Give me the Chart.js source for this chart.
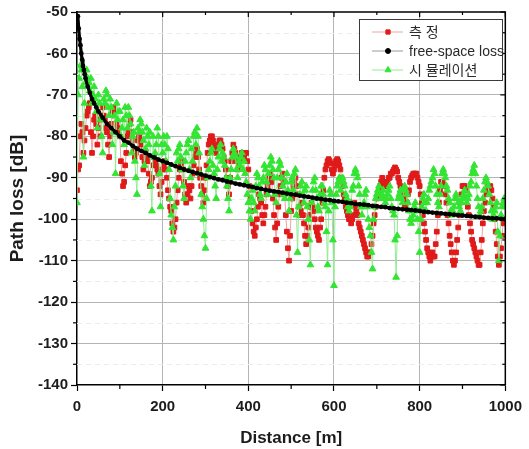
<!DOCTYPE html>
<html>
<head>
<meta charset="utf-8">
<script src="https://cdn.jsdelivr.net/npm/chart.js@4.4.1/dist/chart.umd.min.js"></script>
<style>
  html, body { margin: 0; padding: 0; background: #fff; }
  #wrap { position: relative; width: 529px; height: 449px; }
</style>
</head>
<body>
<div id="wrap"><canvas id="chart" width="529" height="449"></canvas></div>
<script>
// sample positions along the route [m]
const distance = [
  0,5,10,15,20,25,30,35,40,45, 50,55,60,65,70,75,80,85,90,95,
  100,105,110,115,120,125,130,135,140,145, 150,155,160,165,170,175,180,185,190,195,
  200,205,210,215,220,225,230,235,240,245, 250,255,260,265,270,275,280,285,290,295,
  300,305,310,315,320,325,330,335,340,345, 350,355,360,365,370,375,380,385,390,395,
  400,405,410,415,420,425,430,435,440,445, 450,455,460,465,470,475,480,485,490,495,
  500,505,510,515,520,525,530,535,540,545, 550,555,560,565,570,575,580,585,590,595,
  600,605,610,615,620,625,630,635,640,645, 650,655,660,665,670,675,680,685,690,695,
  700,705,710,715,720,725,730,735,740,745, 750,755,760,765,770,775,780,785,790,795,
  800,805,810,815,820,825,830,835,840,845, 850,855,860,865,870,875,880,885,890,895,
  900,905,910,915,920,925,930,935,940,945, 950,955,960,965,970,975,980,985,990,995,
  1000
];
// in-between sample positions [m]
const distanceMid = [
  2.5,7.5,12.5,17.5,22.5,27.5,32.5,37.5,42.5,47.5, 52.5,57.5,62.5,67.5,72.5,77.5,82.5,87.5,92.5,97.5,
  102.5,107.5,112.5,117.5,122.5,127.5,132.5,137.5,142.5,147.5, 152.5,157.5,162.5,167.5,172.5,177.5,182.5,187.5,192.5,197.5,
  202.5,207.5,212.5,217.5,222.5,227.5,232.5,237.5,242.5,247.5, 252.5,257.5,262.5,267.5,272.5,277.5,282.5,287.5,292.5,297.5,
  302.5,307.5,312.5,317.5,322.5,327.5,332.5,337.5,342.5,347.5, 352.5,357.5,362.5,367.5,372.5,377.5,382.5,387.5,392.5,397.5,
  402.5,407.5,412.5,417.5,422.5,427.5,432.5,437.5,442.5,447.5, 452.5,457.5,462.5,467.5,472.5,477.5,482.5,487.5,492.5,497.5,
  502.5,507.5,512.5,517.5,522.5,527.5,532.5,537.5,542.5,547.5, 552.5,557.5,562.5,567.5,572.5,577.5,582.5,587.5,592.5,597.5,
  602.5,607.5,612.5,617.5,622.5,627.5,632.5,637.5,642.5,647.5, 652.5,657.5,662.5,667.5,672.5,677.5,682.5,687.5,692.5,697.5,
  702.5,707.5,712.5,717.5,722.5,727.5,732.5,737.5,742.5,747.5, 752.5,757.5,762.5,767.5,772.5,777.5,782.5,787.5,792.5,797.5,
  802.5,807.5,812.5,817.5,822.5,827.5,832.5,837.5,842.5,847.5, 852.5,857.5,862.5,867.5,872.5,877.5,882.5,887.5,892.5,897.5,
  902.5,907.5,912.5,917.5,922.5,927.5,932.5,937.5,942.5,947.5, 952.5,957.5,962.5,967.5,972.5,977.5,982.5,987.5,992.5,997.5
];

// 측정 (measured) [dB]
const measLoss = [
  -93,-87,-77,-84,-78,-74,-72,-84,-76,-77,  -78,-80,-73,-76,-79,-85,-77,-75,-74,-78,
  -80,-89,-91,-84,-79,-76,-81,-85,-83,-80,  -82,-88,-84,-86,-92,-90,-85,-87,-89,-94,
  -88,-86,-90,-95,-98,-103,-100,-93,-88,-86, -91,-96,-92,-95,-89,-85,-83,-88,-92,-96,
  -90,-84,-81,-80,-82,-84,-82,-81,-83,-86,  -90,-94,-86,-82,-84,-88,-86,-84,-85,-84,
  -88,-95,-101,-104,-100,-94,-96,-101,-97,-92, -89,-91,-99,-105,-97,-92,-89,-94,-103,-110,
  -98,-92,-90,-94,-99,-96,-101,-106,-102,-97, -97,-100,-103,-105,-100,-93,-88,-86,-86,-88,
  -88,-86,-86,-88,-92,-95,-98,-100,-101,-99, -97,-99,-102,-104,-106,-108,-109,-108,-104,-99,
  -95,-93,-91,-91,-92,-91,-90,-89,-88,-88,  -90,-92,-94,-97,-96,-93,-90,-89,-89,-90,
  -92,-96,-101,-105,-108,-110,-108,-109,-103,-96, -91,-91,-94,-99,-104,-108,-111,-108,-102,-96,
  -92,-92,-95,-99,-103,-106,-108,-110,-111,-105, -98,-94,-92,-92,-95,-100,-106,-111,-107,-101,
  -100
];
const measLossMid = [
  -88,-80,-79,-81,-75,-73,-79,-80,-75,-82,  -76,-75,-75,-78,-82,-80,-74,-73,-77,-79,
  -86,-92,-87,-80,-77,-79,-83,-84,-81,-81,  -85,-86,-85,-89,-91,-87,-86,-88,-92,-91,
  -87,-88,-93,-97,-101,-102,-96,-90,-87,-88, -94,-94,-93,-92,-87,-84,-85,-90,-94,-93,
  -87,-82,-80,-81,-83,-83,-81,-82,-85,-88,  -92,-90,-84,-83,-86,-87,-85,-84,-84,-86,
  -92,-98,-103,-102,-97,-95,-99,-99,-94,-90, -90,-95,-102,-101,-94,-90,-91,-99,-107,-104,
  -95,-91,-92,-97,-98,-99,-104,-104,-99,-96, -98,-102,-104,-102,-96,-90,-87,-85.5,-86.5,-89,
  -87,-85.5,-87,-90,-94,-97,-99,-100,-100,-96, -98,-101,-103,-105,-107,-109,-108,-106,-101,-97,
  -94,-92,-90,-91,-92,-90,-89,-88.5,-87.5,-88.5, -91,-93,-95,-97,-94,-91,-89.5,-89,-89,-91,
  -94,-99,-103,-107,-109,-109,-109,-106,-99,-93, -91,-92,-96,-101,-106,-110,-110,-105,-99,-94,
  -92,-93,-97,-101,-105,-107,-109,-111,-108,-101, -96,-93,-92,-93,-97,-103,-109,-109,-104,-100
];

// 시뮬레이션 (simulated) [dB]
const simLoss = [
  -96,-66,-64,-85,-67,-66,-69,-72,-68,-74,  -70,-76,-84,-72,-70,-75,-73,-79,-89,-76,
  -74,-78,-82,-75,-73,-77,-80,-86,-94,-79,  -77,-81,-83,-80,-79,-98,-85,-82,-80,-97,
  -84,-82,-80,-88,-99,-105,-92,-86,-82,-88, -95,-84,-81,-90,-86,-79,-78,-84,-94,-100,
  -107,-90,-86,-83,-89,-95,-85,-82,-84,-87, -92,-98,-88,-83,-85,-90,-87,-84,-86,-91,
  -96,-100,-93,-98,-89,-92,-95,-90,-88,-94, -87,-86,-90,-96,-88,-87,-92,-95,-89,-98,
  -91,-93,-88,-108,-94,-91,-96,-92,-100,-111, -93,-90,-95,-98,-92,-94,-97,-111,-93,-96,
  -116,-94,-91,-93,-90,-92,-95,-98,-96,-92, -88,-90,-94,-99,-96,-93,-100,-104,-112,-97,
  -94,-92,-95,-93,-96,-94,-92,-97,-99,-114, -95,-93,-96,-92,-94,-98,-101,-99,-96,-100,
  -108,-97,-94,-98,-95,-92,-90,-89,-94,-97, -92,-88,-90,-93,-96,-99,-97,-94,-96,-98,
  -95,-93,-96,-94,-91,-88,-89,-95,-99,-97,  -93,-90,-92,-96,-100,-98,-96,-110,-99,-96,
  -97
];
const simLossMid = [
  -70,-63,-68,-72,-64,-67,-66,-70,-71,-78,  -72,-80,-71,-69,-73,-71,-82,-75,-72,-74,
  -80,-76,-73,-78,-75,-84,-79,-90,-78,-76,  -79,-87,-78,-82,-92,-80,-84,-78,-89,-82,
  -80,-86,-83,-95,-102,-97,-84,-83,-85,-92, -86,-82,-88,-83,-80,-82,-80,-89,-97,-104,
  -95,-88,-84,-87,-92,-88,-83,-86,-85,-90,  -95,-90,-85,-84,-88,-86,-85,-88,-89,-94,
  -98,-95,-96,-92,-90,-94,-91,-87,-91,-89,  -85,-88,-94,-90,-86,-90,-94,-91,-93,-95,
  -90,-89,-99,-97,-92,-94,-93,-97,-105,-96, -91,-93,-97,-94,-92,-96,-103,-98,-94,-105,
  -97,-92,-90,-91,-91,-94,-97,-97,-93,-89,  -89,-92,-97,-97,-94,-97,-102,-108,-100,-95,
  -93,-94,-94,-95,-95,-93,-95,-98,-105,-104, -94,-95,-93,-93,-96,-100,-100,-97,-98,-103,
  -100,-95,-96,-96,-93,-91,-88,-92,-96,-94, -89,-89,-92,-95,-98,-98,-95,-95,-97,-96,
  -94,-95,-95,-92,-89,-87,-92,-97,-98,-95,  -91,-91,-94,-98,-99,-97,-103,-104,-97,-95
];

// free-space loss curve
const fsDist = [
  2,4,6,8,10,12,14,16,18,20, 25,30,35,40,45,50, 60,70,80,90,100,
  110,120,130,140,150,160,170,180,190,200, 210,220,230,240,250,260,270,280,290,300,
  310,320,330,340,350,360,370,380,390,400, 410,420,430,440,450,460,470,480,490,500,
  510,520,530,540,550,560,570,580,590,600, 610,620,630,640,650,660,670,680,690,700,
  710,720,730,740,750,760,770,780,790,800, 810,820,830,840,850,860,870,880,890,900,
  910,920,930,940,950,960,970,980,990,1000
];
const fsLoss = [
  -51,-54,-56.5,-58,-60,-61.5,-63,-64,-65,-66, -68,-69.5,-71,-72,-73,-74, -75.5,-77,-78,-79,-80,
  -81,-81.5,-82.3,-83,-83.5,-84,-84.6,-85.1,-85.6,-86, -86.4,-86.8,-87.2,-87.6,-88,-88.3,-88.6,-88.9,-89.2,-89.5,
  -89.8,-90.1,-90.4,-90.6,-90.9,-91.1,-91.4,-91.6,-91.8,-92, -92.2,-92.5,-92.7,-92.9,-93.1,-93.3,-93.4,-93.6,-93.8,-94,
  -94.1,-94.3,-94.5,-94.6,-94.8,-95,-95.1,-95.3,-95.4,-95.6, -95.7,-95.8,-96,-96.1,-96.3,-96.4,-96.5,-96.6,-96.8,-96.9,
  -97,-97.1,-97.3,-97.4,-97.5,-97.6,-97.7,-97.8,-97.9,-98, -98.2,-98.3,-98.4,-98.5,-98.6,-98.7,-98.8,-98.9,-99,-99.1,
  -99.2,-99.3,-99.4,-99.5,-99.6,-99.7,-99.8,-99.8,-99.9,-100
];

const seriesNames = ['측 정', 'free-space loss', '시 뮬레이션'];

const RED = '#e01a1a', RED_LINE = '#f2a2a2';
const GREEN = '#33e433', GREEN_LINE = '#93ec93';
const BLACK = '#000000', GRAY_LINE = '#9a9a9a';
const TXT = '#1c1c1c';
const FONT = '"Liberation Sans", Arial, "Noto Sans CJK KR", sans-serif';

function pairs(xs, ys) {
  return xs.map((x, i) => ({x: x, y: ys[i]}));
}

// main samples and in-between samples, in route order
function interleave(xa, ya, xb, yb) {
  const out = [];
  xa.forEach((x, i) => {
    out.push({x: x, y: ya[i]});
    if (i < xb.length) out.push({x: xb[i], y: yb[i]});
  });
  return out;
}

function seg(ctx, x1, y1, x2, y2) {
  ctx.beginPath(); ctx.moveTo(x1, y1); ctx.lineTo(x2, y2); ctx.stroke();
}

// frame on top/right, Origin style minor ticks, faint minor grid, boxed legend
const framePlugin = {
  id: 'frame',
  beforeDatasetsDraw(chart) {
    const {ctx, chartArea: a, scales: {x, y}} = chart;
    ctx.save();
    ctx.strokeStyle = '#ececec';
    ctx.lineWidth = 1;
    ctx.setLineDash([5, 4]);
    for (let v = -135; v <= -55; v += 10) {
      const py = Math.round(y.getPixelForValue(v)) + 0.5;
      seg(ctx, a.left, py, a.right, py);
    }
    ctx.restore();
  },
  afterDraw(chart) {
    const {ctx, chartArea: a, scales: {x, y}} = chart;
    ctx.save();
    ctx.strokeStyle = '#000';
    ctx.lineWidth = 1.5;
    ctx.beginPath();
    ctx.moveTo(a.left, a.top); ctx.lineTo(a.right, a.top); ctx.lineTo(a.right, a.bottom);
    ctx.stroke();
    ctx.lineWidth = 1.2;
    for (let d = 0; d <= 1000; d += 100) {
      const px = x.getPixelForValue(d);
      seg(ctx, px, a.top, px, a.top + (d % 200 === 0 ? 5 : 3));
      if (d % 200 !== 0) seg(ctx, px, a.bottom, px, a.bottom + 4);
    }
    for (let v = -140; v <= -50; v += 5) {
      const py = y.getPixelForValue(v);
      seg(ctx, a.right, py, a.right - (v % 10 === 0 ? 5 : 3), py);
      if (v % 10 !== 0) seg(ctx, a.left, py, a.left - 4, py);
    }

    // legend box
    const bx = 359.5, by = 19.5, bw = 143, bh = 61;
    ctx.fillStyle = '#fff';
    ctx.fillRect(bx, by, bw, bh);
    ctx.strokeStyle = '#3a3a3a';
    ctx.lineWidth = 1;
    ctx.strokeRect(bx, by, bw, bh);
    const rows = [32, 51, 70];
    const lineCols = [RED_LINE, GRAY_LINE, GREEN_LINE];
    const dotCols = [RED, BLACK, GREEN];
    const styles = ['rect', 'circle', 'triangle'];
    const radii = [3, 2.5, 3.5];
    ctx.font = '14px ' + FONT;
    ctx.textBaseline = 'middle';
    rows.forEach((ry, i) => {
      ctx.strokeStyle = lineCols[i];
      ctx.lineWidth = 1;
      seg(ctx, 372, ry, 403, ry);
      ctx.fillStyle = dotCols[i];
      ctx.strokeStyle = dotCols[i];
      Chart.helpers.drawPoint(ctx, {pointStyle: styles[i], radius: radii[i], borderWidth: 1, rotation: 0}, 388, ry);
      ctx.fillStyle = '#2a2a2a';
      ctx.fillText(seriesNames[i], 409, ry + 1);
    });
    ctx.restore();
  }
};

const config = {
  type: 'scatter',
  data: {
    datasets: [
      {
        label: seriesNames[0],
        data: interleave(distance, measLoss, distanceMid, measLossMid),
        showLine: true,
        borderColor: RED_LINE,
        borderWidth: 1,
        pointStyle: 'rect',
        pointRadius: 3.3,
        pointBackgroundColor: RED,
        pointBorderColor: RED,
        pointBorderWidth: 1,
        order: 3
      },
      {
        label: seriesNames[1],
        data: pairs(fsDist, fsLoss),
        showLine: true,
        borderColor: BLACK,
        borderWidth: 3.2,
        pointStyle: 'circle',
        pointRadius: 2.4,
        pointBackgroundColor: BLACK,
        pointBorderColor: BLACK,
        pointBorderWidth: 0,
        order: 1
      },
      {
        label: seriesNames[2],
        data: interleave(distance, simLoss, distanceMid, simLossMid),
        showLine: true,
        borderColor: GREEN_LINE,
        borderWidth: 1,
        pointStyle: 'triangle',
        pointRadius: 3.9,
        pointBackgroundColor: GREEN,
        pointBorderColor: GREEN,
        pointBorderWidth: 1,
        order: 2
      }
    ]
  },
  options: {
    responsive: false,
    animation: false,
    devicePixelRatio: 1,
    layout: { padding: { top: 12, right: 17, left: 0, bottom: 0 } },
    plugins: {
      legend: { display: false },
      tooltip: { enabled: false }
    },
    scales: {
      x: {
        type: 'linear',
        min: 0,
        max: 1000,
        ticks: {
          stepSize: 200,
          padding: 7,
          maxRotation: 0,
          color: TXT,
          font: { family: FONT, size: 15, weight: 'bold' },
          callback: (v) => String(v)
        },
        grid: {
          color: (c) => (c.tick && (c.tick.value === 0 || c.tick.value === 1000)) ? 'rgba(0,0,0,0)' : '#b4b4b4',
          lineWidth: 1,
          drawTicks: true,
          tickLength: 6,
          tickColor: '#000',
          tickWidth: 1.2
        },
        border: { display: true, color: '#000', width: 1.5 },
        title: {
          display: true,
          text: 'Distance [m]',
          color: TXT,
          font: { family: FONT, size: 17, weight: 'bold' },
          padding: { top: 0, bottom: 0 }
        },
        afterFit(s) { s.height = 64; }
      },
      y: {
        type: 'linear',
        min: -140,
        max: -50,
        ticks: {
          stepSize: 10,
          padding: 3,
          color: TXT,
          font: { family: FONT, size: 15, weight: 'bold' },
          callback: (v) => String(v)
        },
        grid: {
          color: (c) => (c.tick && (c.tick.value === -140 || c.tick.value === -50)) ? 'rgba(0,0,0,0)' : '#b4b4b4',
          lineWidth: 1,
          drawTicks: true,
          tickLength: 6,
          tickColor: '#000',
          tickWidth: 1.2
        },
        border: { display: true, color: '#000', width: 1.5 },
        title: {
          display: true,
          text: 'Path loss [dB]',
          color: TXT,
          font: { family: FONT, size: 19, weight: 'bold' },
          padding: { top: 6, bottom: 0 }
        },
        afterFit(s) { s.width = 77; }
      }
    }
  },
  plugins: [framePlugin]
};

window.chart = new Chart(document.getElementById('chart'), config);
</script>
</body>
</html>
